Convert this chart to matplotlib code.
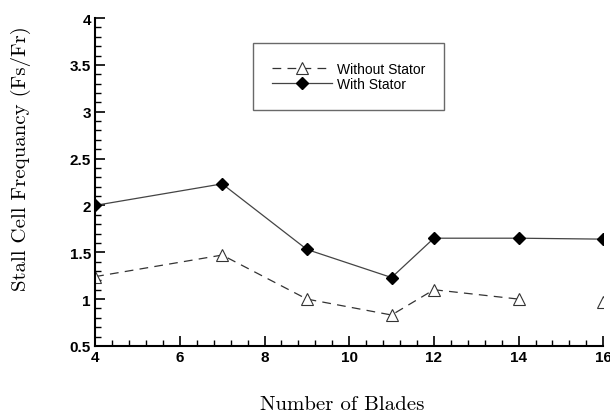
import numpy as np
import matplotlib
matplotlib.use('Agg')
import matplotlib.pyplot as plt
from matplotlib.ticker import MultipleLocator

blades = [4, 7, 9, 11, 12, 14, 16]
with_stator = [2.0, 2.23, 1.53, 1.23, 1.65, 1.65, 1.64]
without_stator = [1.24, 1.47, 1.0, 0.83, 1.1, 1.0, 0.97]

x_ticks = [4, 6, 8, 10, 12, 14, 16]
y_ticks = [0.5, 1, 1.5, 2, 2.5, 3, 3.5, 4]
y_tick_labels = ['0.5', '1', '1.5', '2', '2.5', '3', '3.5', '4']

plt.rcParams['font.family'] = ['Liberation Sans', 'DejaVu Sans']

fig = plt.figure(figsize=(6.1, 4.14), dpi=100)
ax = fig.add_axes([0.156, 0.162, 0.833, 0.792])

# no measurement joins 14 and 16 blades on the dashed curve
ax.plot(blades[:-1], without_stator[:-1], color='#333333', linestyle=(0, (7, 5)), linewidth=0.9,
        marker='^', markersize=8, markerfacecolor='white', markeredgecolor='#333333',
        markeredgewidth=0.8, label='Without Stator')
ax.plot(blades[-1:], without_stator[-1:], linestyle='none', marker='^', markersize=8,
        markerfacecolor='white', markeredgecolor='#333333', markeredgewidth=0.8)
ax.plot(blades, with_stator, color='#444444', linestyle='-', linewidth=0.9,
        marker='D', markersize=6, markerfacecolor='black', markeredgecolor='black',
        label='With Stator')

ax.set_xlim(4, 16)
ax.set_ylim(0.5, 4)
ax.set_xticks(x_ticks)
ax.set_xticklabels([str(v) for v in x_ticks], fontweight='bold')
ax.set_yticks(y_ticks)
ax.set_yticklabels(y_tick_labels, fontweight='bold')
ax.xaxis.set_minor_locator(MultipleLocator(0.4))
ax.yaxis.set_minor_locator(MultipleLocator(0.1))
ax.tick_params(which='major', direction='in', length=7, width=1.2, labelsize=11, pad=3)
ax.tick_params(which='minor', direction='in', length=4, width=1.0)
ax.spines['top'].set_visible(False)
ax.spines['right'].set_visible(False)
ax.spines['left'].set_linewidth(1.5)
ax.spines['bottom'].set_linewidth(1.5)

fig.text(0.561, 0.022, 'Number of Blades', family='cmr10', fontsize=15,
         ha='center', va='center')
fig.text(0.034, 0.616, 'Stall Cell Frequancy (Fs/Fr)', family='cmr10', fontsize=15,
         ha='center', va='center', rotation=90)

leg = ax.legend(loc='upper left', bbox_to_anchor=(0.311, 0.924), fontsize=10, handlelength=4.3,
                frameon=True, fancybox=False, edgecolor='#444444', borderpad=1.35,
                labelspacing=0.1, handletextpad=0.4, borderaxespad=0)
leg.get_frame().set_linewidth(1.0)

fig.savefig('out.png', dpi=100)
